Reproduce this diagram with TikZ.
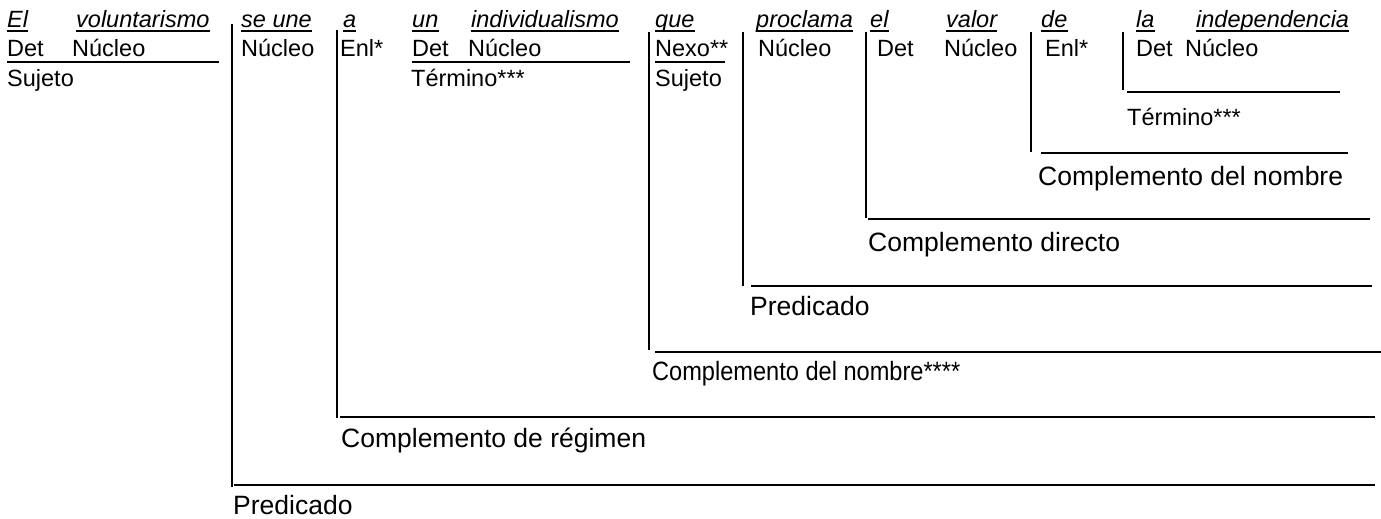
\documentclass[tikz,border=0pt]{standalone}
\usepackage{fontspec}
\setmainfont{Liberation Sans}
\begin{document}
\begin{tikzpicture}[x=1pt,y=-1pt,
  w/.style={anchor=base west,inner sep=0pt,font=\fontsize{23.5}{28}\selectfont},
  wi/.style={anchor=base west,inner sep=0pt,font=\fontsize{23.5}{28}\selectfont\itshape},
  lab/.style={anchor=base west,inner sep=0pt,font=\fontsize{26.5}{32}\selectfont},
  ul/.style={line width=1.3pt},
  bar/.style={line width=1.1pt},
  rule/.style={line width=1.6pt}]
\useasboundingbox (0,0) rectangle (1381,519);
% row 1: the sentence
\node[wi] (w1) at (7,28) {El};
\node[wi] (w2) at (76,28) {voluntarismo};
\node[wi] (w3) at (241,28) {se une};
\node[wi] (w4) at (343,28) {a};
\node[wi] (w5) at (412,28) {un};
\node[wi] (w6) at (471,28) {individualismo};
\node[wi] (w7) at (655,28) {que};
\node[wi] (w8) at (756,28) {proclama};
\node[wi] (w9) at (870,28) {el};
\node[wi] (w10) at (946,28) {valor};
\node[wi] (w11) at (1041,28) {de};
\node[wi] (w12) at (1136,28) {la};
\node[wi] (w13) at (1196,28) {independencia};
\foreach \n in {w1,w2,w3,w4,w5,w6,w7,w8,w9,w10,w11,w12,w13}
  \draw[ul] ([yshift=-3pt]\n.base west) -- ([yshift=-3pt]\n.base east);
% row 2
\node[w] (d1) at (7,57) {Det};
\node[w] (n1) at (72,57) {Núcleo};
\node[w] (n2) at (241,57) {Núcleo};
\node[w] (e1) at (340,57) {Enl*};
\node[w] (d2) at (412,57) {Det};
\node[w] (n3) at (468,57) {Núcleo};
\node[w] (x1) at (655,57) {Nexo**};
\node[w] (n4) at (758,57) {Núcleo};
\node[w] (d3) at (877,57) {Det};
\node[w] (n5) at (944,57) {Núcleo};
\node[w] (e2) at (1045,57) {Enl*};
\node[w] (d4) at (1136,57) {Det};
\node[w] (n6) at (1185,57) {Núcleo};
% row 3
\node[w] (s1) at (7,86) {Sujeto};
\node[w] (t1) at (411,86) {Término***};
\node[w] (s2) at (655,86) {Sujeto};
\node[w] (t2) at (1127,125) {Término***};
% lower labels
\node[lab] (c1) at (1038,185) {Complemento del nombre};
\node[lab] (c2) at (868,251) {Complemento directo};
\node[lab] (c3) at (750,315) {Predicado};
\node[lab] (c4) at (652,380) {\scalebox{0.89}[1]{Complemento del nombre****}};
\node[lab] (c5) at (341,447) {Complemento de régimen};
\node[lab] (c6) at (233,514) {Predicado};
% row 2 underlines
\coordinate (u1e) at (219,62);
\coordinate (u2e) at (630,62);
\coordinate (u3e) at (725,62);
\draw[rule] (d1.base west |- u1e) -- (u1e);
\draw[rule] (d2.base west |- u2e) -- (u2e);
\draw[rule] (x1.base west |- u3e) -- (u3e);
% vertical bars
\coordinate (v1t) at (232,24);  \coordinate (v1b) at (232,487);
\coordinate (v2t) at (337,30);  \coordinate (v2b) at (337,418);
\coordinate (v3t) at (649,32);  \coordinate (v3b) at (649,350);
\coordinate (v4t) at (743,32);  \coordinate (v4b) at (743,286);
\coordinate (v5t) at (866,32);  \coordinate (v5b) at (866,218);
\coordinate (v6t) at (1031,32); \coordinate (v6b) at (1031,152);
\coordinate (v7t) at (1123,32); \coordinate (v7b) at (1123,90);
\foreach \i in {1,...,7} \draw[bar] (v\i t) -- (v\i b);
% horizontal rules
\coordinate (h7a) at (1127,92);  \coordinate (h7b) at (1340,92);
\coordinate (h6a) at (1041,153); \coordinate (h6b) at (1348,153);
\coordinate (h5a) at (868,219);  \coordinate (h5b) at (1370,219);
\coordinate (h4a) at (751,286);  \coordinate (h4b) at (1372,286);
\coordinate (h3a) at (655,352);  \coordinate (h3b) at (1381,352);
\coordinate (h2a) at (340,417);  \coordinate (h2b) at (1375,417);
\coordinate (h1a) at (234,485);  \coordinate (h1b) at (1375,485);
\foreach \i in {1,...,7} \draw[rule] (h\i a) -- (h\i b);
\end{tikzpicture}
\end{document}
